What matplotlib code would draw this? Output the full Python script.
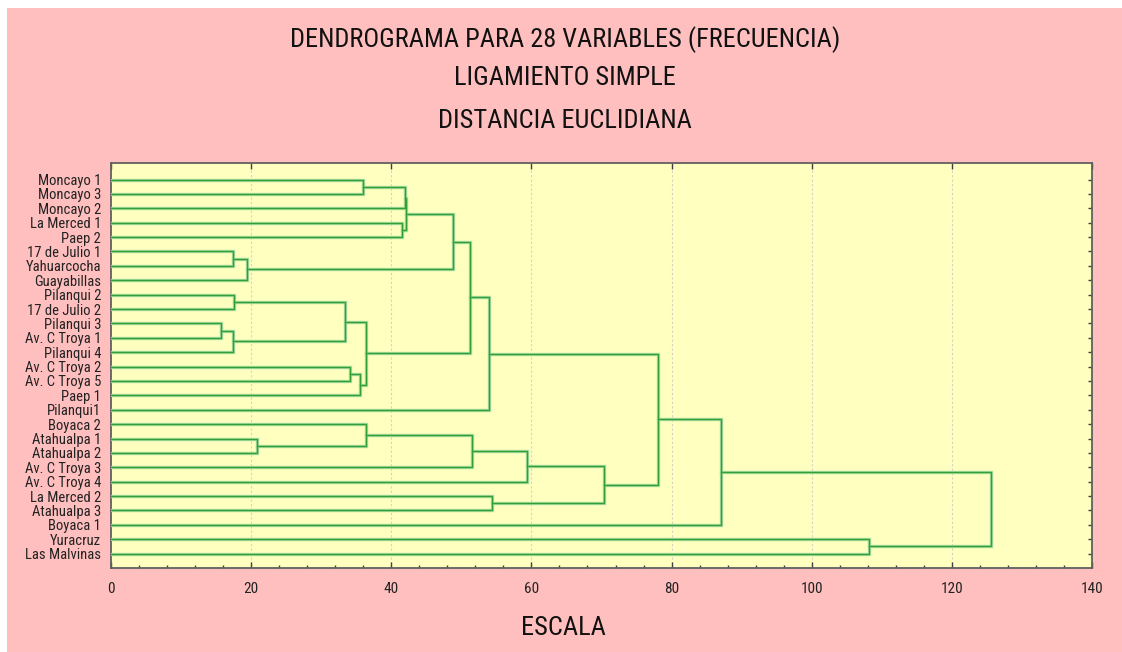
import matplotlib
matplotlib.use("Agg")
import matplotlib.pyplot as plt
from matplotlib.patches import Rectangle

# ---------------- data ----------------
labels = ["Moncayo 1", "Moncayo 3", "Moncayo 2", "La Merced 1", "Paep 2",
          "17 de Julio 1", "Yahuarcocha", "Guayabillas", "Pilanqui 2",
          "17 de Julio 2", "Pilanqui 3", "Av. C Troya 1", "Pilanqui 4",
          "Av. C Troya 2", "Av. C Troya 5", "Paep 1", "Pilanqui1", "Boyaca 2",
          "Atahualpa 1", "Atahualpa 2", "Av. C Troya 3", "Av. C Troya 4",
          "La Merced 2", "Atahualpa 3", "Boyaca 1", "Yuracruz", "Las Malvinas"]

# merges: (node a, node b) ; node ids < 27 are leaves, 27+k is merge k
merge_a = [0, 27, 3, 28, 5, 31, 30, 8, 10, 35, 34, 13, 38, 37, 33, 41,
           18, 17, 44, 45, 22, 46, 42, 49, 25, 50]
merge_b = [1, 2, 4, 29, 6, 7, 32, 9, 11, 12, 36, 14, 15, 39, 40, 16,
           19, 43, 20, 21, 23, 47, 48, 24, 26, 51]
merge_h = [36.0, 41.9, 41.6, 42.1, 17.4, 19.4, 48.8, 17.5, 15.7, 17.35,
           33.4, 34.1, 35.6, 36.4, 51.2, 53.9, 20.9, 36.4, 51.5, 59.4,
           54.4, 70.4, 78.1, 87.1, 108.2, 125.6]

title_lines = ["DENDROGRAMA PARA 28 VARIABLES (FRECUENCIA)",
               "LIGAMIENTO SIMPLE", "DISTANCIA EUCLIDIANA"]
xlabel = "ESCALA"
xticks = [0, 20, 40, 60, 80, 100, 120, 140]

# ---------------- style ----------------
plt.rcParams["font.family"] = ["Roboto Condensed", "Archivo Narrow", "DejaVu Sans"]

PINK = "#FFBFBF"
YELLOW = "#FFFFC0"
TXT = "#222222"

fig = plt.figure(figsize=(11.22, 6.52), dpi=100, facecolor=PINK)
# thin white borders on the left and top edges
fig.patches.append(Rectangle((0, 0), 7 / 1122, 1, transform=fig.transFigure,
                             facecolor="white", edgecolor="none"))
fig.patches.append(Rectangle((0, 1 - 8 / 652), 1, 8 / 652, transform=fig.transFigure,
                             facecolor="white", edgecolor="none"))

ax = fig.add_axes([111 / 1122, 1 - 568 / 652, (1092 - 111) / 1122, (568 - 163) / 652])
ax.set_facecolor(YELLOW)

n = len(labels)
ypos = {i: float(i) for i in range(n)}
hpos = {i: 0.0 for i in range(n)}
for k, (a, b, h) in enumerate(zip(merge_a, merge_b, merge_h)):
    xs = [hpos[a], h, h, hpos[b]]
    ys = [ypos[a], ypos[a], ypos[b], ypos[b]]
    ax.plot(xs, ys, color="#a9dca2", lw=2.4, solid_joinstyle="miter", zorder=3)
    ax.plot(xs, ys, color="#33a033", lw=1.0, solid_joinstyle="miter", zorder=4)
    nid = n + k
    ypos[nid] = (ypos[a] + ypos[b]) / 2
    hpos[nid] = h

ax.set_xlim(0, 140)
ax.set_ylim(n - 0.0, -1.15)
ax.set_xticks(xticks)
ax.set_xticklabels([str(t) for t in xticks])
ax.set_xticks(range(0, 141, 4), minor=True)
ax.set_yticks(range(n))
ax.set_yticklabels(labels)

ax.tick_params(axis="x", which="major", direction="in", top=True, bottom=True,
               length=4, width=1, color="#404040", labelsize=11,
               labelcolor=TXT, pad=10)
ax.tick_params(axis="x", which="minor", direction="in", top=False, bottom=True,
               length=2.5, width=1, color="#404040")
ax.tick_params(axis="y", which="major", direction="in", left=False, right=True,
               length=3, width=1, color="#404040", labelsize=10.5,
               labelcolor=TXT, pad=7)

for xv in xticks[1:-1]:
    ax.axvline(xv, color="#d4d4c4", lw=0.8, ls=(0, (2, 2)), zorder=1)

for s in ax.spines.values():
    s.set_color("#606060")
    s.set_linewidth(1.3)

ys_title = [40, 78, 121]
for t, yy in zip(title_lines, ys_title):
    fig.text(565 / 1122, 1 - yy / 652, t, ha="center", va="center",
             fontsize=19, color="#111111")
fig.text(563 / 1122, 1 - 628 / 652, xlabel, ha="center", va="center",
         fontsize=19, color="#111111")

fig.savefig("out.png", dpi=100, facecolor=fig.get_facecolor())
